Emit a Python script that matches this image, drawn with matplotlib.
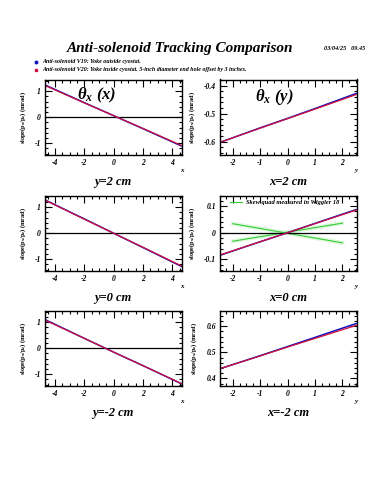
import matplotlib
matplotlib.use("Agg")
import matplotlib.pyplot as plt
from matplotlib.lines import Line2D
from matplotlib.ticker import MultipleLocator, FuncFormatter

plt.rcParams['font.family'] = ['Liberation Serif', 'DejaVu Serif']
plt.rcParams['mathtext.default'] = 'regular'

# data
x_xscan = [-4.6, -2, 0, 2, 4.6]
x_yscan = [-2.5, -1, 0, 1, 2.5]

# theta_x vs x  (left column), y = 2, 0, -2 cm
tx_y2_v19 = [1.22, 0.56, 0.06, -0.44, -1.10]
tx_y2_v20 = [1.20, 0.55, 0.06, -0.43, -1.08]
tx_y0_v19 = [1.26, 0.55, 0.00, -0.55, -1.27]
tx_y0_v20 = [1.25, 0.54, 0.00, -0.54, -1.25]
tx_ym2_v19 = [1.08, 0.38, -0.15, -0.67, -1.36]
tx_ym2_v20 = [1.06, 0.38, -0.15, -0.67, -1.35]

# theta_x vs y  (right column), x = 2, 0, -2 cm
ty_x2_v19 = [-0.604, -0.551, -0.517, -0.482, -0.428]
ty_x2_v20 = [-0.604, -0.552, -0.518, -0.484, -0.432]
ty_x0_v19 = [-0.086, -0.034, 0.000, 0.035, 0.087]
ty_x0_v20 = [-0.085, -0.034, 0.000, 0.034, 0.085]
ty_xm2_v19 = [0.436, 0.487, 0.522, 0.557, 0.610]
ty_xm2_v20 = [0.436, 0.486, 0.520, 0.553, 0.603]

# skew quad measured in wiggler 18
skew_x = [-2, 2]
skew_a = [0.034, -0.038]
skew_b = [-0.032, 0.036]

blue = '#1010c0'
red = '#d0103c'
green = '#33cc33'

fig = plt.figure(figsize=(3.75, 5), dpi=100)

fig.text(0.48, 0.903, 'Anti-solenoid Tracking Comparison', ha='center', va='center',
         fontsize=11, fontweight='bold', style='italic')
fig.text(0.975, 0.902, '03/04/25   09.45', ha='right', va='center',
         fontsize=4.5, fontweight='bold', style='italic')

# legend at top
fig.add_artist(Line2D([0.097], [0.877], marker='o', ms=1.8, color=blue,
                      transform=fig.transFigure))
fig.add_artist(Line2D([0.097], [0.861], marker='s', ms=1.8, color=red,
                      transform=fig.transFigure))
fig.text(0.113, 0.877, 'Anti-solenoid V19: Yoke outside cyostat.', va='center',
         fontsize=4.3, fontweight='bold', style='italic')
fig.text(0.113, 0.861, 'Anti-solenoid V20: Yoke inside cyostat. 5-inch diameter end hole offset by 3 inches.',
         va='center', fontsize=4.3, fontweight='bold', style='italic')

ylab = 'slope(p$_x$/p$_z$) (mrad)'


def fmt(v, pos):
    s = ('%.1f' % v).rstrip('0').rstrip('.')
    if s in ('-0', ''):
        s = '0'
    return s


def style_axes(ax, xmaj, xmin, ymaj, ymin):
    ax.xaxis.set_major_locator(MultipleLocator(xmaj))
    ax.xaxis.set_minor_locator(MultipleLocator(xmin))
    ax.yaxis.set_major_locator(MultipleLocator(ymaj))
    ax.yaxis.set_minor_locator(MultipleLocator(ymin))
    ax.xaxis.set_major_formatter(FuncFormatter(fmt))
    ax.yaxis.set_major_formatter(FuncFormatter(fmt))
    ax.tick_params(which='both', direction='in', top=True, right=True,
                   width=0.8, colors='black')
    ax.tick_params(which='major', length=5, labelsize=5.5, pad=3)
    ax.tick_params(which='minor', length=2.5)
    for lab in ax.get_xticklabels() + ax.get_yticklabels():
        lab.set_fontweight('bold')
        lab.set_fontstyle('italic')
    for sp in ax.spines.values():
        sp.set_linewidth(1.0)
    ax.set_ylabel(ylab, fontsize=4.5, fontweight='bold', labelpad=5)


lx0, rx0, w = 0.12, 0.587, 0.364
rows = [0.69, 0.458, 0.228]
h = 0.151

left_data = [(tx_y2_v19, tx_y2_v20, 'y=2 cm'),
             (tx_y0_v19, tx_y0_v20, 'y=0 cm'),
             (tx_ym2_v19, tx_ym2_v20, 'y=-2 cm')]
right_data = [(ty_x2_v19, ty_x2_v20, 'x=2 cm', (-0.648, -0.378)),
              (ty_x0_v19, ty_x0_v20, 'x=0 cm', (-0.144, 0.14)),
              (ty_xm2_v19, ty_xm2_v20, 'x=-2 cm', (0.371, 0.66))]

for i, (b, (v19, v20, lab)) in enumerate(zip(rows, left_data)):
    ax = fig.add_axes([lx0, b, w, h])
    ax.axhline(0, color='black', lw=0.9)
    ax.plot(x_xscan, v19, color=blue, lw=1.1)
    ax.plot(x_xscan, v20, color=red, lw=0.9)
    ax.set_xlim(-4.68, 4.62)
    ax.set_ylim(-1.45, 1.45)
    style_axes(ax, 2, 0.5, 1, 0.2)
    ax.text(0.5, -0.36, lab, transform=ax.transAxes, ha='center', va='center',
            fontsize=9, fontweight='bold', style='italic')
    ax.text(1.0, -0.2, 'x', transform=ax.transAxes, ha='center', va='center',
            fontsize=5, fontweight='bold', style='italic')
    if i == 0:
        ax.text(0.38, 0.79, 'θ$_x$ (x)', transform=ax.transAxes,
                ha='center', va='center', fontsize=12, fontweight='bold',
                style='italic')

for i, (b, (v19, v20, lab, yl)) in enumerate(zip(rows, right_data)):
    ax = fig.add_axes([rx0, b, w, h])
    if i == 1:
        ax.plot(skew_x, skew_a, color=green, lw=3, alpha=0.15)
        ax.plot(skew_x, skew_b, color=green, lw=3, alpha=0.15)
        ax.plot(skew_x, skew_a, color=green, lw=0.8)
        ax.plot(skew_x, skew_b, color=green, lw=0.8)
        ax.axhline(0, color='black', lw=0.9)
        ax.plot([-2.1, -1.65], [0.115, 0.115], color=green, lw=0.8)
        ax.text(-1.5, 0.115, 'Skew quad measured in Wiggler 18', va='center',
                fontsize=4.6, fontweight='bold', style='italic')
    ax.plot(x_yscan, v19, color=blue, lw=1.1)
    ax.plot(x_yscan, v20, color=red, lw=0.9)
    ax.set_xlim(-2.46, 2.52)
    ax.set_ylim(*yl)
    style_axes(ax, 1, 0.25, 0.1, 0.02)
    ax.text(0.5, -0.36, lab, transform=ax.transAxes, ha='center', va='center',
            fontsize=9, fontweight='bold', style='italic')
    ax.text(1.0, -0.2, 'y', transform=ax.transAxes, ha='center', va='center',
            fontsize=5, fontweight='bold', style='italic')
    if i == 0:
        ax.text(0.4, 0.77, 'θ$_x$ (y)', transform=ax.transAxes,
                ha='center', va='center', fontsize=12, fontweight='bold',
                style='italic')

fig.savefig('out.png', dpi=100)
